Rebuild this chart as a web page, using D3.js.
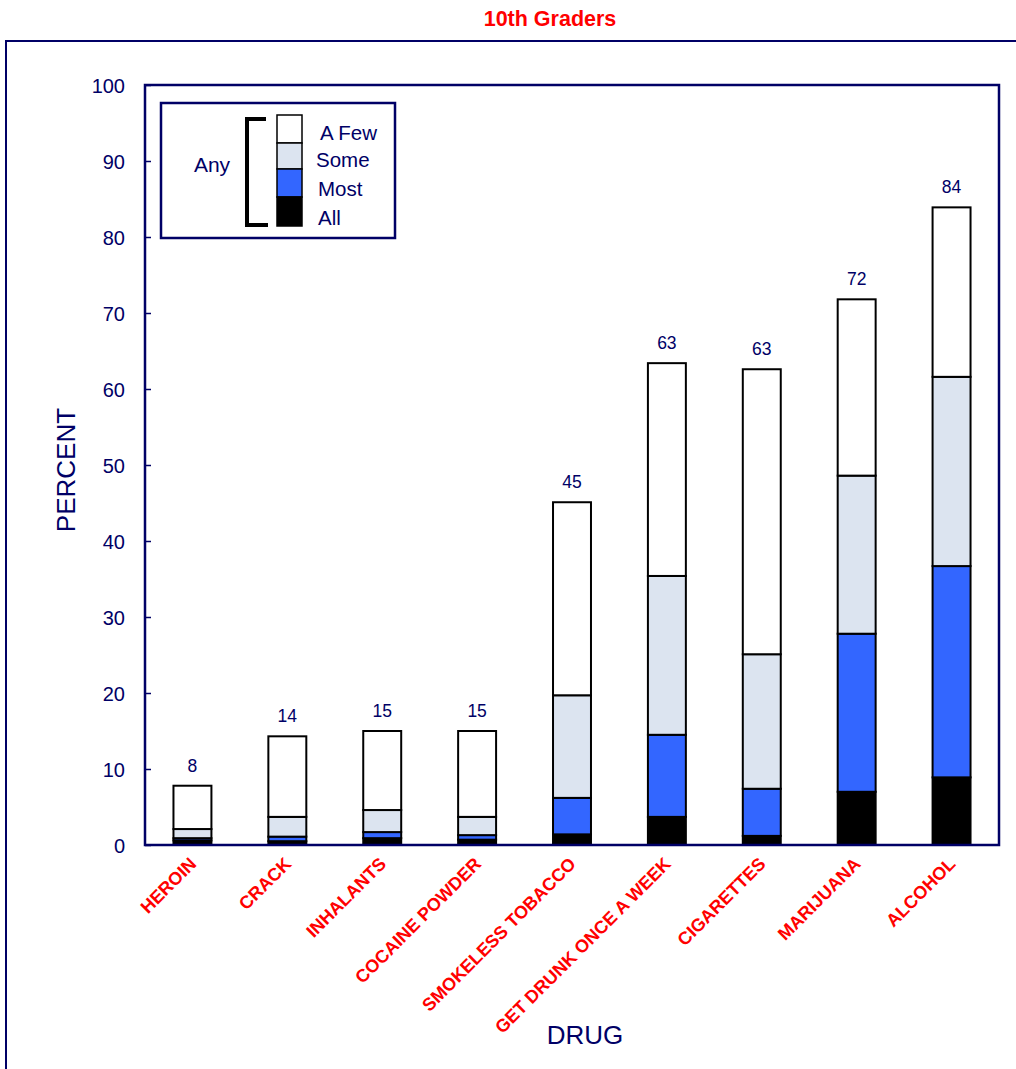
<!DOCTYPE html>
<html><head><meta charset="utf-8">
<script src="https://cdn.jsdelivr.net/npm/d3@7"></script>
<style>body{margin:0;background:#fff;} svg{display:block;font-family:Arial,"Liberation Sans",sans-serif;}</style>
</head><body>
<script>
const categories = ["HEROIN","CRACK","INHALANTS","COCAINE POWDER","SMOKELESS TOBACCO","GET DRUNK ONCE A WEEK","CIGARETTES","MARIJUANA","ALCOHOL"];
const allVals  = [0.6, 0.5, 0.9, 0.7, 1.4, 3.7, 1.2, 7.0, 8.9];
const mostVals = [0.3, 0.6, 0.8, 0.6, 4.8, 10.8, 6.2, 20.8, 27.8];
const someVals = [1.2, 2.6, 2.9, 2.4, 13.5, 20.9, 17.7, 20.8, 24.9];
const fewVals  = [5.7, 10.6, 10.4, 11.3, 25.4, 28.0, 37.5, 23.2, 22.3];
const totalLabels = ["8","14","15","15","45","63","63","72","84"];
const seriesNames = ["All","Most","Some","A Few"];
const seriesColors = ["#000000","#3366ff","#dce4f0","#ffffff"];
const yTicks = [0,10,20,30,40,50,60,70,80,90,100];

const W=1016,H=1069, navy="#000066";
const svg=d3.select("body").append("svg").attr("width",W).attr("height",H);
const m={l:145,t:85,r:999,b:845};
const x=d3.scaleBand().domain(categories).range([m.l,m.r]).paddingInner(0.6).paddingOuter(0.3);
const y=d3.scaleLinear().domain([0,100]).range([m.b,m.t]);

// title
svg.append("text").attr("x",550).attr("y",26).attr("text-anchor","middle").attr("fill","#ff0000")
  .attr("font-weight","bold").attr("font-size",21.5).text("10th Graders");
// outer frame
svg.append("rect").attr("x",6).attr("y",41).attr("width",1030).attr("height",1050).attr("fill","none").attr("stroke",navy).attr("stroke-width",2);

// data
const rows=categories.map((c,i)=>({cat:c,All:allVals[i],Most:mostVals[i],Some:someVals[i],"A Few":fewVals[i]}));
const stack=d3.stack().keys(seriesNames)(rows);
svg.append("g").selectAll("g").data(stack).join("g").attr("fill",(d,i)=>seriesColors[i])
 .selectAll("rect").data(d=>d).join("rect")
 .attr("x",d=>x(d.data.cat)).attr("width",x.bandwidth())
 .attr("y",d=>y(d[1])).attr("height",d=>y(d[0])-y(d[1]))
 .attr("stroke","#000").attr("stroke-width",2);

// total labels
svg.append("g").selectAll("text").data(rows).join("text")
 .attr("x",d=>x(d.cat)+x.bandwidth()/2)
 .attr("y",d=>y(d.All+d.Most+d.Some+d["A Few"])-14)
 .attr("text-anchor","middle").attr("fill",navy).attr("font-size",17.5)
 .text((d,i)=>totalLabels[i]);

// plot frame
svg.append("rect").attr("x",m.l).attr("y",m.t).attr("width",m.r-m.l).attr("height",m.b-m.t)
 .attr("fill","none").attr("stroke",navy).attr("stroke-width",2.5);

// y axis
const ya=svg.append("g").attr("transform",`translate(${m.l},0)`)
 .call(d3.axisRight(y).tickValues(yTicks).tickSize(6).tickFormat(d3.format("d")));
ya.select(".domain").remove();
ya.selectAll("line").attr("stroke",navy).attr("stroke-width",1.5);
ya.selectAll("text").attr("x",-20).attr("text-anchor","end").attr("fill",navy)
 .attr("font-size",20).attr("font-family","Arial, 'Liberation Sans', sans-serif").attr("dy","0.35em");

// x labels
svg.append("g").selectAll("text").data(categories).join("text")
 .attr("transform",d=>`translate(${x(d)+x.bandwidth()/2+5},${m.b+20}) rotate(-45)`)
 .attr("text-anchor","end").attr("fill","#ff0000").attr("font-weight","bold").attr("font-size",18)
 .text(d=>d);

// axis titles
svg.append("text").attr("transform","translate(75,470) rotate(-90)").attr("text-anchor","middle")
 .attr("fill",navy).attr("font-size",26).text("PERCENT");
svg.append("text").attr("x",585).attr("y",1044).attr("text-anchor","middle")
 .attr("fill",navy).attr("font-size",26).text("DRUG");

// legend
const lg=svg.append("g");
lg.append("rect").attr("x",161).attr("y",103).attr("width",234).attr("height",135)
 .attr("fill","#fff").attr("stroke",navy).attr("stroke-width",2.5);
lg.append("text").attr("x",212).attr("y",172).attr("text-anchor","middle").attr("fill",navy).attr("font-size",21).text("Any");
lg.append("path").attr("d","M266,119 H247 V225 H268").attr("fill","none").attr("stroke","#000").attr("stroke-width",4);
const sw=[{n:"A Few",c:seriesColors[3],y0:115,y1:143,ty:140,tx:320},
          {n:"Some",c:seriesColors[2],y0:143,y1:169,ty:167,tx:316},
          {n:"Most",c:seriesColors[1],y0:169,y1:197,ty:196,tx:318},
          {n:"All",c:seriesColors[0],y0:197,y1:226,ty:225,tx:318}];
lg.selectAll("rect.sw").data(sw).join("rect").attr("class","sw")
 .attr("x",277).attr("y",d=>d.y0).attr("width",25).attr("height",d=>d.y1-d.y0)
 .attr("fill",d=>d.c).attr("stroke","#000").attr("stroke-width",1.5);
lg.selectAll("text.lt").data(sw).join("text").attr("class","lt")
 .attr("x",d=>d.tx).attr("y",d=>d.ty).attr("fill",navy).attr("font-size",20.5).text(d=>d.n);
</script>
</body></html>
